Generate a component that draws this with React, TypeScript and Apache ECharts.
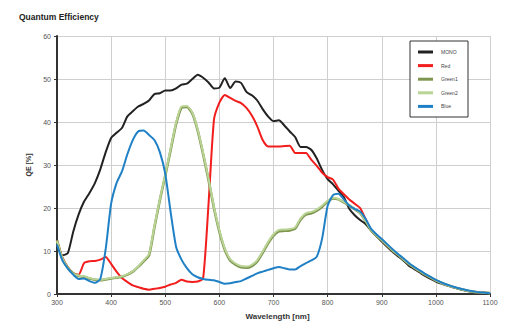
import React, { useEffect, useRef } from "react";
import * as echarts from "echarts";

const wavelengths = [
  300, 310, 320, 330, 340, 350, 360, 370, 380, 390,
  400, 410, 420, 430, 440, 450, 460, 470, 480, 490,
  500, 510, 520, 530, 540, 550, 560, 570, 580, 590,
  600, 610, 620, 630, 640, 650, 660, 670, 680, 690,
  700, 710, 720, 730, 740, 750, 760, 770, 780, 790,
  800, 810, 820, 830, 840, 850, 860, 870, 880, 890,
  900, 910, 920, 930, 940, 950, 960, 970, 980, 990,
  1000, 1010, 1020, 1030, 1040, 1050, 1060, 1070, 1080, 1090, 1100,
];

const mono = [
  12, 9, 9.5, 14.5, 18.5, 21.5, 23.5, 25.8, 29, 33,
  36.3, 37.5, 38.6, 41.3, 42.5, 43.6, 44.2, 45, 46.5, 46.7,
  47.3, 47.3, 47.8, 48.7, 48.9, 50, 51, 50.3, 49.2, 47.8,
  48, 50.2, 47.9, 49.4, 49.1, 47, 46.2, 45, 43, 41.3,
  40.2, 40.4, 39.2, 37.8, 36.5, 34.2, 34.2, 33.5, 31.5, 28.8,
  26.7, 25.5, 24.0, 22.5, 19.8, 18.3, 17.2, 16.3, 14.8, 13.5,
  12.2, 11, 9.8, 8.8, 7.8, 6.6, 5.8, 5.0, 4.2, 3.5,
  2.9, 2.4, 2.0, 1.6, 1.3, 0.9, 0.7, 0.5, 0.4, 0.3, 0.2,
];

const red = [
  12.5, 8.5, 6.2, 4.8, 4.5, 7.2, 7.6, 7.7, 8.0, 8.6,
  7.0, 5.2, 3.7, 2.8, 2.0, 1.6, 1.2, 1.0, 1.2, 1.4,
  1.7, 2.2, 2.6, 3.3, 2.9, 2.8, 2.9, 3.7, 21, 40.5,
  44.5, 46.3, 45.6, 44.9, 44.4, 43.3, 41.5, 39, 35.8, 34.3,
  34.3, 34.3, 34.4, 34.5, 32.8, 32.8, 32.8, 31.2, 29.8, 28.2,
  27.2, 26.6, 24.5, 23.2, 22.0, 21.0, 20.0, 17.5, 15.0, 13.6,
  12.5, 11.3, 10.1, 9.1, 8.1, 7.0, 6.1, 5.3, 4.5, 3.8,
  3.2, 2.6, 2.1, 1.7, 1.3, 1.0, 0.7, 0.5, 0.4, 0.3, 0.2,
];

const green1 = [
  12.5, 8.2, 6.1, 4.8, 4.2, 4.0, 3.6, 3.3, 3.2, 3.4,
  3.6, 3.8, 4.0, 4.5, 5.2, 6.3, 7.6, 9.0, 15.5, 21.8,
  27.5, 33.5, 39.5, 43.3, 43.5, 42.0, 38.0, 32.5, 26.5, 20.0,
  14.5, 10.3, 7.8, 6.8, 6.2, 6.1, 6.5, 7.6, 9.6, 11.8,
  13.6, 14.6, 14.7, 14.8, 15.2, 17.3, 18.5, 18.8, 19.4, 20.3,
  21.5, 22.2, 22.0, 21.3, 20.6, 19.7, 18.8, 17.0, 14.9, 13.6,
  12.5, 11.3, 10.1, 9.1, 8.0, 7.0, 6.1, 5.3, 4.5, 3.8,
  3.1, 2.6, 2.1, 1.7, 1.3, 1.0, 0.7, 0.5, 0.4, 0.3, 0.2,
];

const green2 = [
  12.3, 8.3, 6.0, 4.7, 4.3, 4.1, 3.7, 3.4, 3.3, 3.5,
  3.7, 3.9, 4.1, 4.6, 5.3, 6.4, 7.8, 9.3, 15.8, 22.0,
  27.8, 33.8, 39.8, 43.6, 43.7, 42.2, 38.2, 32.8, 26.8, 20.3,
  14.8, 10.6, 8.1, 7.1, 6.5, 6.4, 6.8, 7.9, 9.9, 12.1,
  13.9, 14.9, 15.0, 15.1, 15.5, 17.6, 18.8, 19.1, 19.7, 20.6,
  21.7, 22.4, 22.1, 21.4, 20.7, 19.8, 18.9, 17.1, 15.0, 13.7,
  12.6, 11.4, 10.2, 9.2, 8.1, 7.1, 6.2, 5.4, 4.6, 3.9,
  3.2, 2.6, 2.1, 1.7, 1.3, 1.0, 0.7, 0.5, 0.4, 0.3, 0.2,
];

const blue = [
  11.5, 7.8, 5.9, 4.5, 3.5, 3.6, 3.0, 2.6, 3.5, 10.5,
  21, 25.8, 28.5, 32.5, 35.8, 37.8, 38.0, 37.0, 35.8, 33.0,
  28, 19, 11, 8.0, 6.0, 4.6, 3.9, 3.5, 3.3, 3.2,
  2.8, 2.4, 2.5, 2.8, 3.0, 3.6, 4.2, 4.8, 5.2, 5.6,
  6.0, 6.3, 6.0, 5.7, 5.7, 6.5, 7.2, 7.8, 8.7, 13,
  20.5, 23.0, 23.3, 22, 20.6, 19.8, 19.2, 17.5, 15.2, 13.9,
  12.8, 11.6, 10.4, 9.3, 8.3, 7.2, 6.3, 5.5, 4.7, 4.0,
  3.3, 2.7, 2.2, 1.8, 1.4, 1.1, 0.8, 0.6, 0.4, 0.3, 0.2,
];

const seriesNames = ["MONO", "Red", "Green1", "Green2", "Blue"];
const seriesColors = ["#222222", "#f21d1d", "#7f9651", "#b9d494", "#1f80c6"];
const seriesWidths = [2, 2, 2.6, 2, 2];
const seriesValues = [mono, red, green1, green2, blue];

export default function App() {
  const ref = useRef<HTMLDivElement>(null);
  useEffect(() => {
    if (!ref.current) return;
    document.body.style.margin = "0";
    const chart = echarts.init(ref.current, undefined, { renderer: "svg" });
    const font = "Liberation Sans, Arial, sans-serif";
    chart.setOption({
      animation: false,
      backgroundColor: "#ffffff",
      title: {
        text: "Quantum Efficiency",
        left: 14,
        top: 7,
        textStyle: { fontSize: 8.5, fontWeight: "bold", color: "#222", fontFamily: font },
      },
      graphic: [
        {
          type: "rect",
          shape: { x: 410, y: 41, width: 58, height: 76 },
          style: { fill: "#ffffff", stroke: "#333", lineWidth: 1 },
          z: 10,
        },
      ],
      legend: {
        orient: "vertical",
        left: 418,
        top: 49,
        padding: 0,
        itemWidth: 15,
        itemHeight: 3,
        itemGap: 7.6,
        icon: "rect",
        z: 20,
        data: seriesNames,
        textStyle: { fontSize: 5, color: "#444", fontFamily: font, lineHeight: 6, padding: [0, 0, 0, 3] },
      },
      grid: { left: 57, right: 26, top: 36, bottom: 31 },
      xAxis: {
        type: "value",
        min: 300,
        max: 1100,
        interval: 100,
        name: "Wavelength [nm]",
        nameLocation: "middle",
        nameGap: 18,
        nameTextStyle: { fontSize: 8, fontWeight: "bold", color: "#333", fontFamily: font, padding: [0, 0, 0, 8] },
        axisLine: { lineStyle: { color: "#333", width: 2 } },
        axisTick: { show: true, length: 3, lineStyle: { color: "#333" } },
        axisLabel: { fontSize: 7, color: "#555", margin: 5, fontFamily: font, formatter: (v: number) => String(v) },
        splitLine: { show: true, lineStyle: { color: "#cfcfcf", width: 1 } },
      },
      yAxis: {
        type: "value",
        min: 0,
        max: 60,
        interval: 10,
        name: "QE [%]",
        nameLocation: "middle",
        nameGap: 22,
        nameTextStyle: { fontSize: 7, fontWeight: "bold", color: "#333", fontFamily: font },
        axisLine: { show: true, lineStyle: { color: "#333", width: 2 } },
        axisTick: { show: true, length: 3, lineStyle: { color: "#333" } },
        axisLabel: { fontSize: 7, color: "#555", margin: 6, fontFamily: font },
        splitLine: { show: true, lineStyle: { color: "#cfcfcf", width: 1 } },
      },
      series: seriesNames.map((name, i) => ({
        name,
        type: "line",
        data: wavelengths.map((w, j) => [w, seriesValues[i][j]]),
        showSymbol: false,
        symbol: "none",
        smooth: 0.2,
        color: seriesColors[i],
        lineStyle: { color: seriesColors[i], width: seriesWidths[i] },
        z: 2 + i,
      })),
    });
    return () => chart.dispose();
  }, []);
  return <div ref={ref} style={{ width: 516, height: 325 }} />;
}
